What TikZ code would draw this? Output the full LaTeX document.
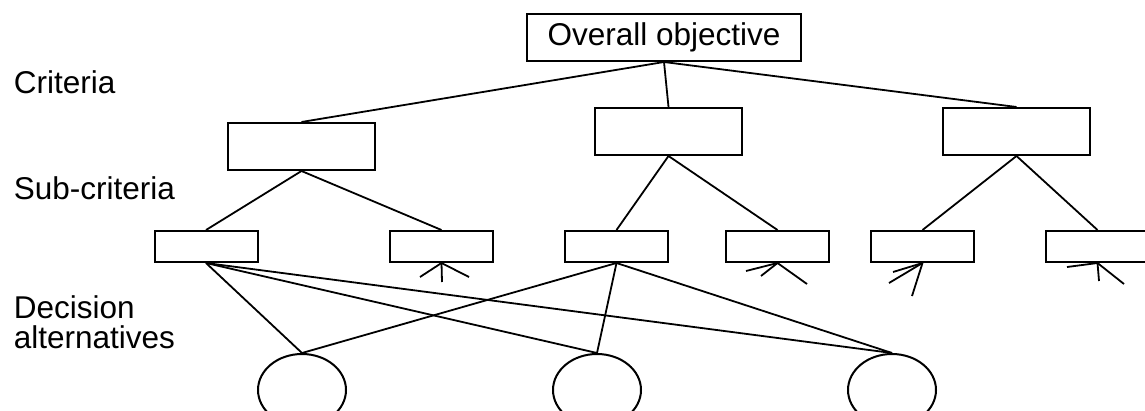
\documentclass[tikz,border=0pt]{standalone}
\usepackage{fontspec}
\setmainfont{Liberation Sans}
\usetikzlibrary{positioning}
\usetikzlibrary{shapes,shapes.geometric,arrows,fit,calc}

\tikzset{
  goalbox/.style={draw, line width=2pt, minimum width=274pt, minimum height=47pt, inner sep=0pt},
  critbox/.style={draw, line width=2pt, minimum width=147pt, minimum height=47pt, inner sep=0pt},
  subbox/.style={draw, line width=2pt, minimum width=103pt, minimum height=31pt, inner sep=0pt},
  altnode/.style={draw, ellipse, line width=2pt, minimum width=88pt, minimum height=72pt, inner sep=0pt},
  level/.style={anchor=base west, inner sep=0pt, align=left}
}

\begin{document}
\begin{tikzpicture}[x=1pt,y=-1pt,line width=1.8pt,font=\fontsize{31.5}{30}\selectfont]
        \useasboundingbox (0,0) rectangle (1145,410);

        \node[goalbox] (top) at (664,37.5) {Overall objective};

        \node[critbox] (c_1) at (301.5,146.5) {};
        \node[critbox] (c_2) at (668.5,131.5) {};
        \node[critbox] (c_3) at (1016.5,131.5) {};

        \node[subbox] (s_1) at (206,246.5) {};
        \node[subbox] (s_2) at (441.5,246.5) {};
        \node[subbox] (s_3) at (616.5,246.5) {};
        \node[subbox] (s_4) at (777.5,246.5) {};
        \node[subbox] (s_5) at (922.5,246.5) {};
        \node[subbox] (s_6) at (1097.5,246.5) {};

        \node[altnode] (a_1) at (302,390) {};
        \node[altnode] (a_2) at (597,390) {};
        \node[altnode] (a_3) at (892,390) {};

        \node[level] (l_1) at (13,93) {Criteria};
        \node[level] (l_2) at (13,199) {Sub-criteria};
        \node[level] (l_3) at (13,348) {Decision\\alternatives};

        % loose ends under the sub-criteria
        \coordinate (t_2a) at (420,277);
        \coordinate (t_2b) at (442,282);
        \coordinate (t_2c) at (469,277);
        \coordinate (t_4a) at (746,271);
        \coordinate (t_4b) at (761,276);
        \coordinate (t_4c) at (807,284);
        \coordinate (t_5a) at (893,272);
        \coordinate (t_5b) at (889,283);
        \coordinate (t_5c) at (912,296);
        \coordinate (t_6a) at (1067,267);
        \coordinate (t_6b) at (1099,281);
        \coordinate (t_6c) at (1124,284);

        \path
        (top.south) edge (c_1.north)
        (top.south) edge (c_2.north)
        (top.south) edge (c_3.north)
        (c_1.south) edge (s_1.north)
        (c_1.south) edge (s_2.north)
        (c_2.south) edge (s_3.north)
        (c_2.south) edge (s_4.north)
        (c_3.south) edge (s_5.north)
        (c_3.south) edge (s_6.north)
        (s_1.south) edge (a_1.north)
        (s_1.south) edge (a_2.north)
        (s_1.south) edge (a_3.north)
        (s_3.south) edge (a_1.north)
        (s_3.south) edge (a_2.north)
        (s_3.south) edge (a_3.north)
        (s_2.south) edge (t_2a) edge (t_2b) edge (t_2c)
        (s_4.south) edge (t_4a) edge (t_4b) edge (t_4c)
        (s_5.south) edge (t_5a) edge (t_5b) edge (t_5c)
        (s_6.south) edge (t_6a) edge (t_6b) edge (t_6c)
        ;

    \end{tikzpicture}
\end{document}
